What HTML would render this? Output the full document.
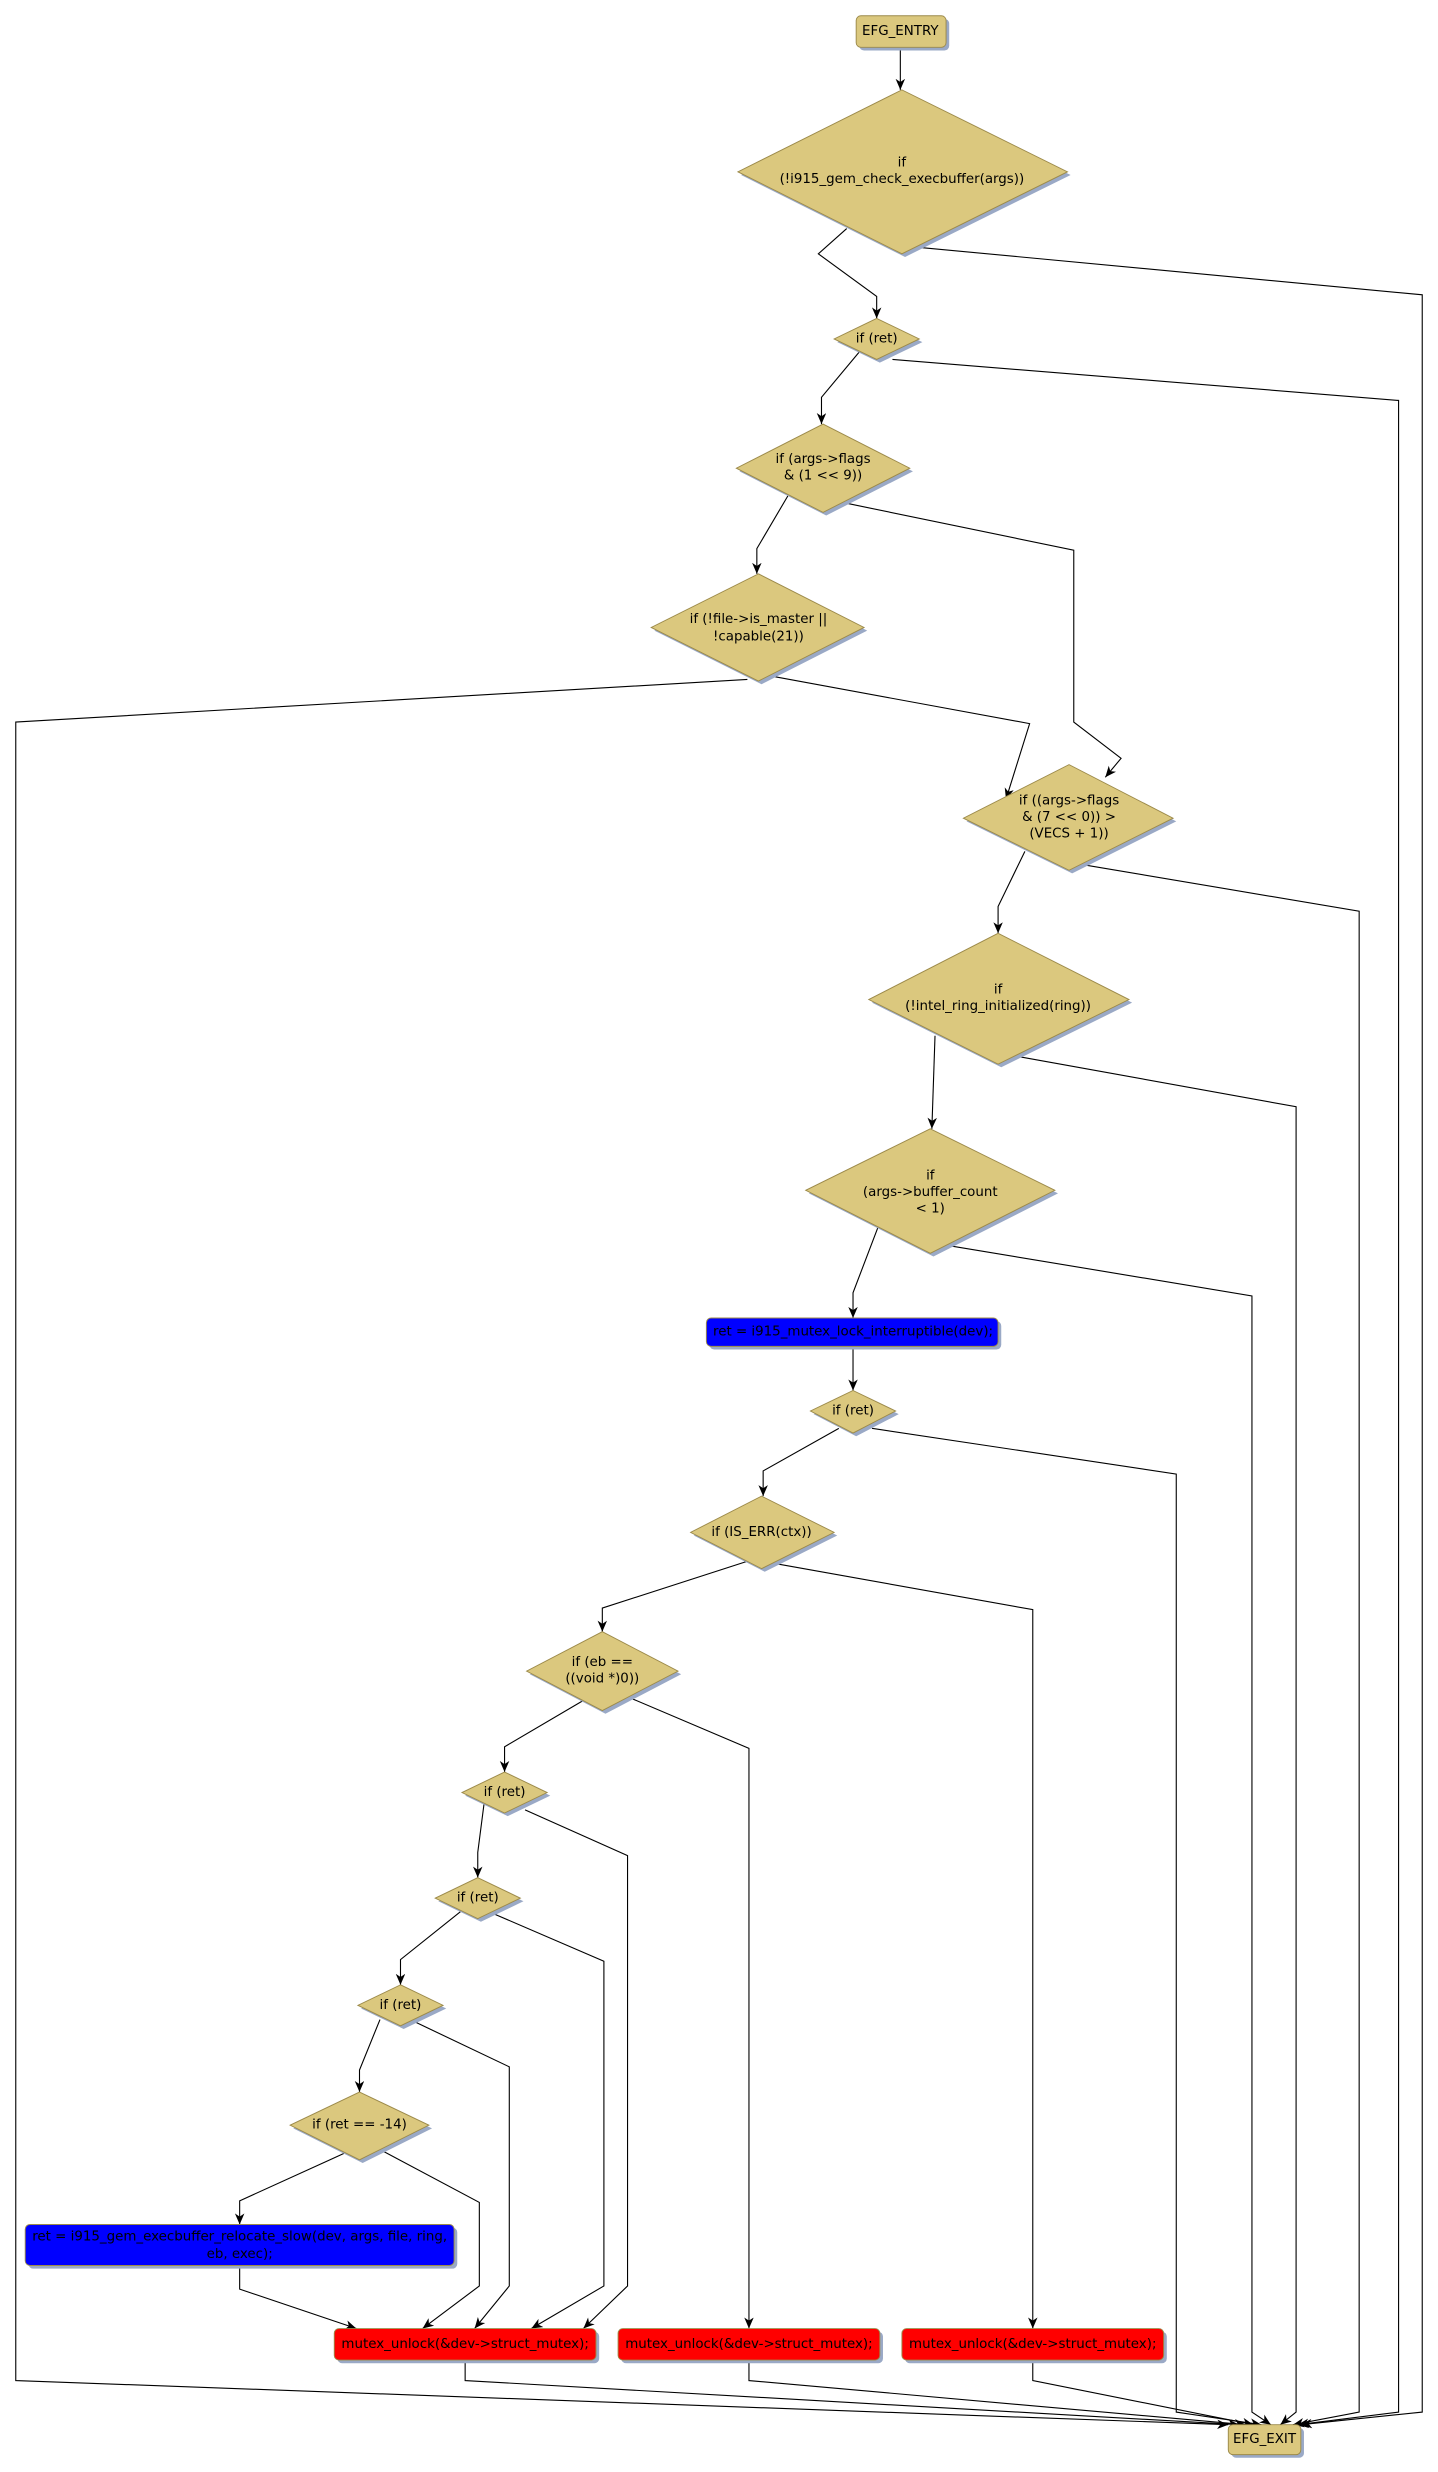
<!DOCTYPE html>
<html><head><meta charset="utf-8"><style>
html,body{margin:0;padding:0;background:#fff;}
svg{display:block;}
text{font-family:"DejaVu Sans","Liberation Sans",sans-serif;font-size:8.5px;fill:#000;text-anchor:middle;dominant-baseline:central;}
</style></head><body>
<svg width="1438" height="2472" viewBox="0 0 912 1568" preserveAspectRatio="none" xmlns="http://www.w3.org/2000/svg">
<defs>
<marker id="a" markerWidth="8" markerHeight="8" refX="7" refY="3" orient="auto" markerUnits="userSpaceOnUse">
<path d="M0,0 L7,3 L0,6 L2,3 Z" fill="#000"/>
</marker>
</defs>
<g fill="none" stroke="#000" stroke-width="0.7" marker-end="url(#a)">
<polyline points="571,30 571,57"/>
<polyline points="537,145 519,161 556,188 556,202"/>
<polyline points="584,157 902,187 902,1530 825,1538"/>
<polyline points="546,222 521,252 521,269"/>
<polyline points="566,228 887,254 887,1530 823,1538"/>
<polyline points="500,314 480,348 480,364"/>
<polyline points="531,318 681,349 681,458 711,481 701,493"/>
<polyline points="474,431 10,458 10,1510 779,1538"/>
<polyline points="490,429 653,459 638,507"/>
<polyline points="650,540 633,575 633,592"/>
<polyline points="684,548 862,578 862,1530 820,1538"/>
<polyline points="593,657 591,716"/>
<polyline points="645,670 822,702 822,1530 812,1538"/>
<polyline points="557,778 541,820 541,836"/>
<polyline points="601,790 794,822 794,1530 806,1538"/>
<polyline points="541,854 541,882"/>
<polyline points="532,906 484,933 484,949"/>
<polyline points="553,906 746,935 746,1530 800,1538"/>
<polyline points="475,990 382,1020 382,1035"/>
<polyline points="493,992 655,1021 655,1477"/>
<polyline points="371,1078 320,1108 320,1124"/>
<polyline points="395,1075 475,1109 475,1477"/>
<polyline points="307,1144 303,1175 303,1191"/>
<polyline points="333,1148 398,1177 398,1450 370,1477"/>
<polyline points="294,1211 254,1243 254,1259"/>
<polyline points="311,1213 383,1244 383,1450 337,1477"/>
<polyline points="241,1281 228,1313 228,1327"/>
<polyline points="260,1281 323,1311 323,1450 301,1477"/>
<polyline points="218,1366 152,1396 152,1411"/>
<polyline points="242,1364 304,1397 304,1450 268,1477"/>
<polyline points="152,1437 152,1452 226,1477"/>
<polyline points="295,1497 295,1510 786,1538"/>
<polyline points="475,1497 475,1510 790,1538"/>
<polyline points="655,1497 655,1510 795,1538"/>
</g>
<g fill="#9aa9c6">
<rect x="545" y="12" width="57" height="20" rx="3"/>
<polygon points="572,59 679,111 574,163 470,111"/>
<polygon points="558,204 585,217 558,230 531,217"/>
<polygon points="524,271 579,299 524,327 469,299"/>
<polygon points="483,366 550,400 483,434 415,400"/>
<polygon points="680,487 746,521 680,554 613,521"/>
<polygon points="635,594 718,636 635,677 553,636"/>
<polygon points="592,718 671,757 592,797 513,757"/>
<rect x="450" y="838" width="185" height="18" rx="3"/>
<polygon points="543,884 570,897 543,911 516,897"/>
<polygon points="485,951 531,974 485,997 440,974"/>
<polygon points="384,1037 432,1062 384,1087 336,1062"/>
<polygon points="322,1126 349,1139 322,1152 295,1139"/>
<polygon points="305,1193 332,1206 305,1219 278,1206"/>
<polygon points="256,1261 283,1274 256,1287 229,1274"/>
<polygon points="230,1329 274,1350 230,1372 186,1350"/>
<rect x="18" y="1413" width="272" height="26" rx="3"/>
<rect x="214" y="1479" width="166" height="20" rx="3"/>
<rect x="394" y="1479" width="166" height="20" rx="3"/>
<rect x="574" y="1479" width="166" height="20" rx="3"/>
<rect x="781" y="1540" width="46" height="19" rx="3"/>
</g>
<g fill="#dbc87e" stroke="#9c8a4a" stroke-width="0.6">
<rect x="543" y="10" width="57" height="20" rx="3"/>
<polygon points="572,57 677,109 572,161 468,109"/>
<polygon points="556,202 583,215 556,228 529,215"/>
<polygon points="522,269 577,297 522,325 467,297"/>
<polygon points="481,364 548,398 481,432 413,398"/>
<polygon points="678,485 744,519 678,552 611,519"/>
<polygon points="633,592 716,634 633,675 551,634"/>
<polygon points="590,716 669,755 590,795 511,755"/>
<polygon points="541,882 568,895 541,909 514,895"/>
<polygon points="483,949 529,972 483,995 438,972"/>
<polygon points="382,1035 430,1060 382,1085 334,1060"/>
<polygon points="320,1124 347,1137 320,1150 293,1137"/>
<polygon points="303,1191 330,1204 303,1217 276,1204"/>
<polygon points="254,1259 281,1272 254,1285 227,1272"/>
<polygon points="228,1327 272,1348 228,1370 184,1348"/>
<rect x="779" y="1538" width="46" height="19" rx="3"/>
</g>
<g stroke="#9c8a4a" stroke-width="0.6">
<rect x="448" y="836" width="185" height="18" rx="3" fill="#0000ff"/>
<rect x="16" y="1411" width="272" height="26" rx="3" fill="#0000ff"/>
<rect x="212" y="1477" width="166" height="20" rx="3" fill="#ff0000"/>
<rect x="392" y="1477" width="166" height="20" rx="3" fill="#ff0000"/>
<rect x="572" y="1477" width="166" height="20" rx="3" fill="#ff0000"/>
</g>
<text x="571" y="20">EFG_ENTRY</text>
<text x="572" y="103.5">if</text>
<text x="572" y="114">(!i915_gem_check_execbuffer(args))</text>
<text x="556" y="215">if (ret)</text>
<text x="522" y="291.5">if (args-&gt;flags</text>
<text x="522" y="302">&amp; (1 &lt;&lt; 9))</text>
<text x="481" y="393">if (!file-&gt;is_master ||</text>
<text x="481" y="404">!capable(21))</text>
<text x="678" y="508">if ((args-&gt;flags</text>
<text x="678" y="518.5">&amp; (7 &lt;&lt; 0)) &gt;</text>
<text x="678" y="529">(VECS + 1))</text>
<text x="633" y="628">if</text>
<text x="633" y="638.5">(!intel_ring_initialized(ring))</text>
<text x="590" y="746">if</text>
<text x="590" y="756.5">(args-&gt;buffer_count</text>
<text x="590" y="767">&lt; 1)</text>
<text x="541" y="845">ret = i915_mutex_lock_interruptible(dev);</text>
<text x="541" y="895">if (ret)</text>
<text x="483" y="972">if (IS_ERR(ctx))</text>
<text x="382" y="1054.5">if (eb ==</text>
<text x="382" y="1065">((void *)0))</text>
<text x="320" y="1137">if (ret)</text>
<text x="303" y="1204">if (ret)</text>
<text x="254" y="1272">if (ret)</text>
<text x="228" y="1348">if (ret == -14)</text>
<text x="152" y="1419">ret = i915_gem_execbuffer_relocate_slow(dev, args, file, ring,</text>
<text x="152" y="1430">eb, exec);</text>
<text x="295" y="1487">mutex_unlock(&amp;dev-&gt;struct_mutex);</text>
<text x="475" y="1487">mutex_unlock(&amp;dev-&gt;struct_mutex);</text>
<text x="655" y="1487">mutex_unlock(&amp;dev-&gt;struct_mutex);</text>
<text x="802" y="1547.5">EFG_EXIT</text>
</svg>
</body></html>
